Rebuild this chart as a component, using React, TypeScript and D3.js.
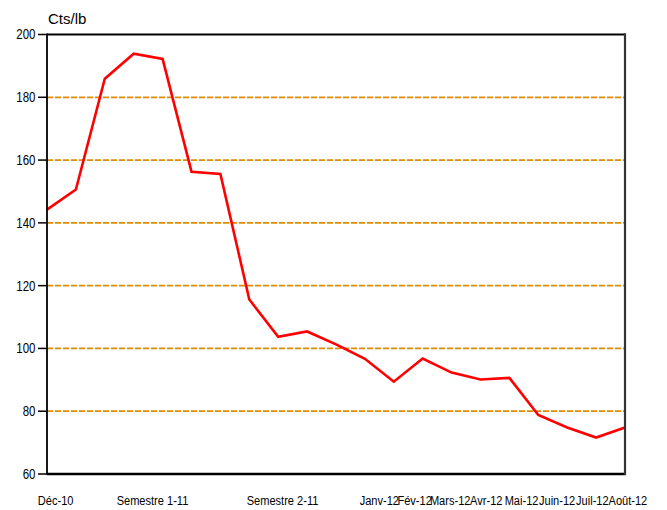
import React from "react";
import * as d3 from "d3";

const values: number[] = [
  144.2, 150.6, 185.9, 193.9, 192.2, 156.3, 155.6, 115.6, 103.7, 105.4, 101.3,
  96.7, 89.4, 96.8, 92.3, 90.1, 90.6, 78.8, 74.8, 71.6, 74.8,
];
const xTickLabels: string[] = [
  "Déc-10", "Semestre 1-11", "Semestre 2-11", "Janv-12", "Fév-12", "Mars-12",
  "Avr-12", "Mai-12", "Juin-12", "Juil-12", "Août-12",
];
// where each label sits along the series (index units)
const xTickAt: number[] = [0.3, 3.65, 8.15, 11.5, 12.72, 13.95, 15.2, 16.42, 17.65, 18.87, 20.1];
const yTicks: number[] = [60, 80, 100, 120, 140, 160, 180, 200];
const yGrid: number[] = [80, 100, 120, 140, 160, 180];
const unitLabel = "Cts/lb";

const W = 667;
const H = 510;
const left = 47;
const right = 625;
const top = 34.5;
const bottom = 474;
const NARROW = 0.82;

export default function App() {
  const x = d3.scaleLinear().domain([0, values.length - 1]).range([left, right]);
  const y = d3.scaleLinear().domain([60, 200]).range([bottom, top]);
  const line = d3
    .line<number>()
    .x((_, i) => x(i))
    .y((d) => y(d));
  const font = "'Liberation Sans', Arial, sans-serif";
  return (
    <svg
      width={W}
      height={H}
      style={{ position: "absolute", left: 0, top: 0, background: "#fff" }}
    >
      <rect x={0} y={0} width={W} height={H} fill="#fff" />
      <text x={48} y={24} fontFamily={font} fontSize={15} fill="#000">
        {unitLabel}
      </text>
      {yGrid.map((v) => (
        <line
          key={"g" + v}
          x1={left}
          x2={right}
          y1={y(v)}
          y2={y(v)}
          stroke="#DF8C00"
          strokeWidth={1.8}
          strokeDasharray="6.2,1.8"
        />
      ))}
      {yTicks.map((v) => (
        <g key={"t" + v}>
          <line x1={38} x2={left} y1={y(v)} y2={y(v)} stroke="#000" strokeWidth={1.5} />
          <text
            transform={`translate(35.5,${y(v)}) scale(${NARROW},1)`}
            dy="0.35em"
            textAnchor="end"
            fontFamily={font}
            fontSize={14}
            fill="#000"
          >
            {v}
          </text>
        </g>
      ))}
      <path d={line(values) || ""} fill="none" stroke="#FF0000" strokeWidth={2.6} strokeLinejoin="miter" />
      <line x1={left} x2={right + 1} y1={top} y2={top} stroke="#000" strokeWidth={2.2} />
      <line x1={left} x2={right + 1} y1={bottom} y2={bottom} stroke="#000" strokeWidth={2.4} />
      <line x1={left} x2={left} y1={top - 1} y2={bottom + 1} stroke="#000" strokeWidth={1.8} />
      <line x1={right} x2={right} y1={top - 1} y2={bottom + 1} stroke="#333" strokeWidth={2.2} />
      {xTickLabels.map((t, i) => (
        <text
          key={t}
          transform={`translate(${x(xTickAt[i])},505) scale(${NARROW},1)`}
          textAnchor="middle"
          fontFamily={font}
          fontSize={13.5}
          fill="#000"
        >
          {t}
        </text>
      ))}
    </svg>
  );
}
